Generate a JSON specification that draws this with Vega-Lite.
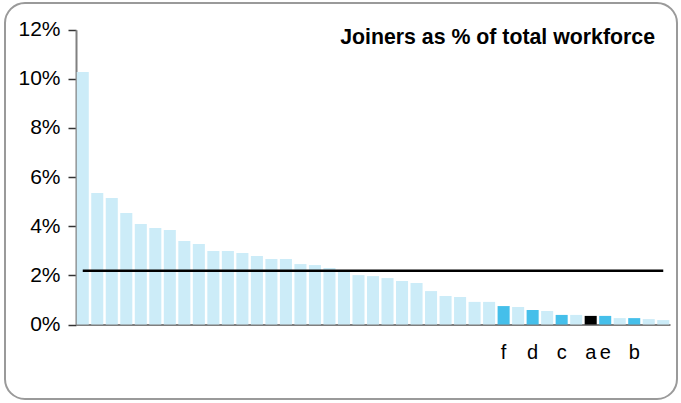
{
  "$schema": "https://vega.github.io/schema/vega-lite/v6.json",
  "width": 672,
  "height": 396,
  "autosize": {"type": "none"},
  "padding": {"left": 5, "top": 3, "right": 4, "bottom": 4},
  "background": "white",
  "config": {
    "view": {"stroke": "#9a9a9a", "strokeWidth": 2, "cornerRadius": 20},
    "font": "Liberation Sans"
  },
  "title": {
    "text": "Joiners as % of total workforce",
    "anchor": "end",
    "frame": "group",
    "orient": "top",
    "offset": -45,
    "dx": -22,
    "fontSize": 21.3,
    "fontWeight": "bold",
    "color": "#000000",
    "font": "Liberation Sans"
  },
  "data": {
    "values": [
      {"unit": "u01", "share": 0.1028, "avg": 0.0219, "group": "other"},
      {"unit": "u02", "share": 0.0535, "avg": 0.0219, "group": "other"},
      {"unit": "u03", "share": 0.0515, "avg": 0.0219, "group": "other"},
      {"unit": "u04", "share": 0.0454, "avg": 0.0219, "group": "other"},
      {"unit": "u05", "share": 0.0409, "avg": 0.0219, "group": "other"},
      {"unit": "u06", "share": 0.0393, "avg": 0.0219, "group": "other"},
      {"unit": "u07", "share": 0.0385, "avg": 0.0219, "group": "other"},
      {"unit": "u08", "share": 0.0340, "avg": 0.0219, "group": "other"},
      {"unit": "u09", "share": 0.0328, "avg": 0.0219, "group": "other"},
      {"unit": "u10", "share": 0.0299, "avg": 0.0219, "group": "other"},
      {"unit": "u11", "share": 0.0299, "avg": 0.0219, "group": "other"},
      {"unit": "u12", "share": 0.0291, "avg": 0.0219, "group": "other"},
      {"unit": "u13", "share": 0.0279, "avg": 0.0219, "group": "other"},
      {"unit": "u14", "share": 0.0267, "avg": 0.0219, "group": "other"},
      {"unit": "u15", "share": 0.0267, "avg": 0.0219, "group": "other"},
      {"unit": "u16", "share": 0.0246, "avg": 0.0219, "group": "other"},
      {"unit": "u17", "share": 0.0242, "avg": 0.0219, "group": "other"},
      {"unit": "u18", "share": 0.0230, "avg": 0.0219, "group": "other"},
      {"unit": "u19", "share": 0.0214, "avg": 0.0219, "group": "other"},
      {"unit": "u20", "share": 0.0201, "avg": 0.0219, "group": "other"},
      {"unit": "u21", "share": 0.0197, "avg": 0.0219, "group": "other"},
      {"unit": "u22", "share": 0.0189, "avg": 0.0219, "group": "other"},
      {"unit": "u23", "share": 0.0177, "avg": 0.0219, "group": "other"},
      {"unit": "u24", "share": 0.0169, "avg": 0.0219, "group": "other"},
      {"unit": "u25", "share": 0.0136, "avg": 0.0219, "group": "other"},
      {"unit": "u26", "share": 0.0116, "avg": 0.0219, "group": "other"},
      {"unit": "u27", "share": 0.0112, "avg": 0.0219, "group": "other"},
      {"unit": "u28", "share": 0.0092, "avg": 0.0219, "group": "other"},
      {"unit": "u29", "share": 0.0092, "avg": 0.0219, "group": "other"},
      {"unit": "f", "share": 0.0075, "avg": 0.0219, "group": "peer"},
      {"unit": "u31", "share": 0.0071, "avg": 0.0219, "group": "other"},
      {"unit": "d", "share": 0.0059, "avg": 0.0219, "group": "peer"},
      {"unit": "u33", "share": 0.0055, "avg": 0.0219, "group": "other"},
      {"unit": "c", "share": 0.0039, "avg": 0.0219, "group": "peer"},
      {"unit": "u35", "share": 0.0039, "avg": 0.0219, "group": "other"},
      {"unit": "a", "share": 0.0035, "avg": 0.0219, "group": "self"},
      {"unit": "e", "share": 0.0035, "avg": 0.0219, "group": "peer"},
      {"unit": "u38", "share": 0.0026, "avg": 0.0219, "group": "other"},
      {"unit": "b", "share": 0.0026, "avg": 0.0219, "group": "peer"},
      {"unit": "u40", "share": 0.0022, "avg": 0.0219, "group": "other"},
      {"unit": "u41", "share": 0.0018, "avg": 0.0219, "group": "other"}
    ]
  },
  "encoding": {
    "x": {
      "field": "unit",
      "type": "nominal",
      "sort": null,
      "scale": {"range": [71, 665], "paddingInner": 0.17, "paddingOuter": 0.05},
      "axis": {
        "orient": "bottom",
        "offset": -74.5,
        "ticks": false,
        "domainColor": "#7f7f7f",
        "domainWidth": 2,
        "labelExpr": "length(datum.value) == 1 ? datum.value : ''",
        "labelAngle": 0,
        "labelFontSize": 20,
        "labelFont": "Liberation Sans",
        "labelColor": "#000000",
        "labelPadding": 18,
        "labelOverlap": false,
        "title": null,
        "grid": false
      }
    }
  },
  "layer": [
    {
      "mark": {"type": "bar"},
      "encoding": {
        "y": {
          "field": "share",
          "type": "quantitative",
          "scale": {"domain": [0, 0.12], "range": [321.5, 26.7], "nice": false, "zero": true},
          "axis": {
            "format": ".0%",
            "values": [0, 0.02, 0.04, 0.06, 0.08, 0.1, 0.12],
            "offset": -71,
            "domainColor": "#808080",
            "domainWidth": 2,
            "tickColor": "#333333",
            "tickSize": 8,
            "tickWidth": 1.5,
            "labelFontSize": 21,
            "labelFont": "Liberation Sans",
            "labelColor": "#000000",
            "labelPadding": 8,
            "grid": false,
            "title": null
          }
        },
        "color": {
          "field": "group",
          "type": "nominal",
          "scale": {"domain": ["other", "peer", "self"], "range": ["#CCECF8", "#45BFEA", "#000000"]},
          "legend": null
        }
      }
    },
    {
      "mark": {"type": "line", "color": "#000000", "strokeWidth": 2.5},
      "encoding": {
        "y": {
          "field": "avg",
          "type": "quantitative",
          "scale": {"domain": [0, 0.12], "range": [321.5, 26.7], "nice": false, "zero": true},
          "axis": {
            "format": ".0%",
            "values": [0, 0.02, 0.04, 0.06, 0.08, 0.1, 0.12],
            "offset": -71,
            "domainColor": "#808080",
            "domainWidth": 2,
            "tickColor": "#333333",
            "tickSize": 8,
            "tickWidth": 1.5,
            "labelFontSize": 21,
            "labelFont": "Liberation Sans",
            "labelColor": "#000000",
            "labelPadding": 8,
            "grid": false,
            "title": null
          }
        }
      }
    }
  ]
}
